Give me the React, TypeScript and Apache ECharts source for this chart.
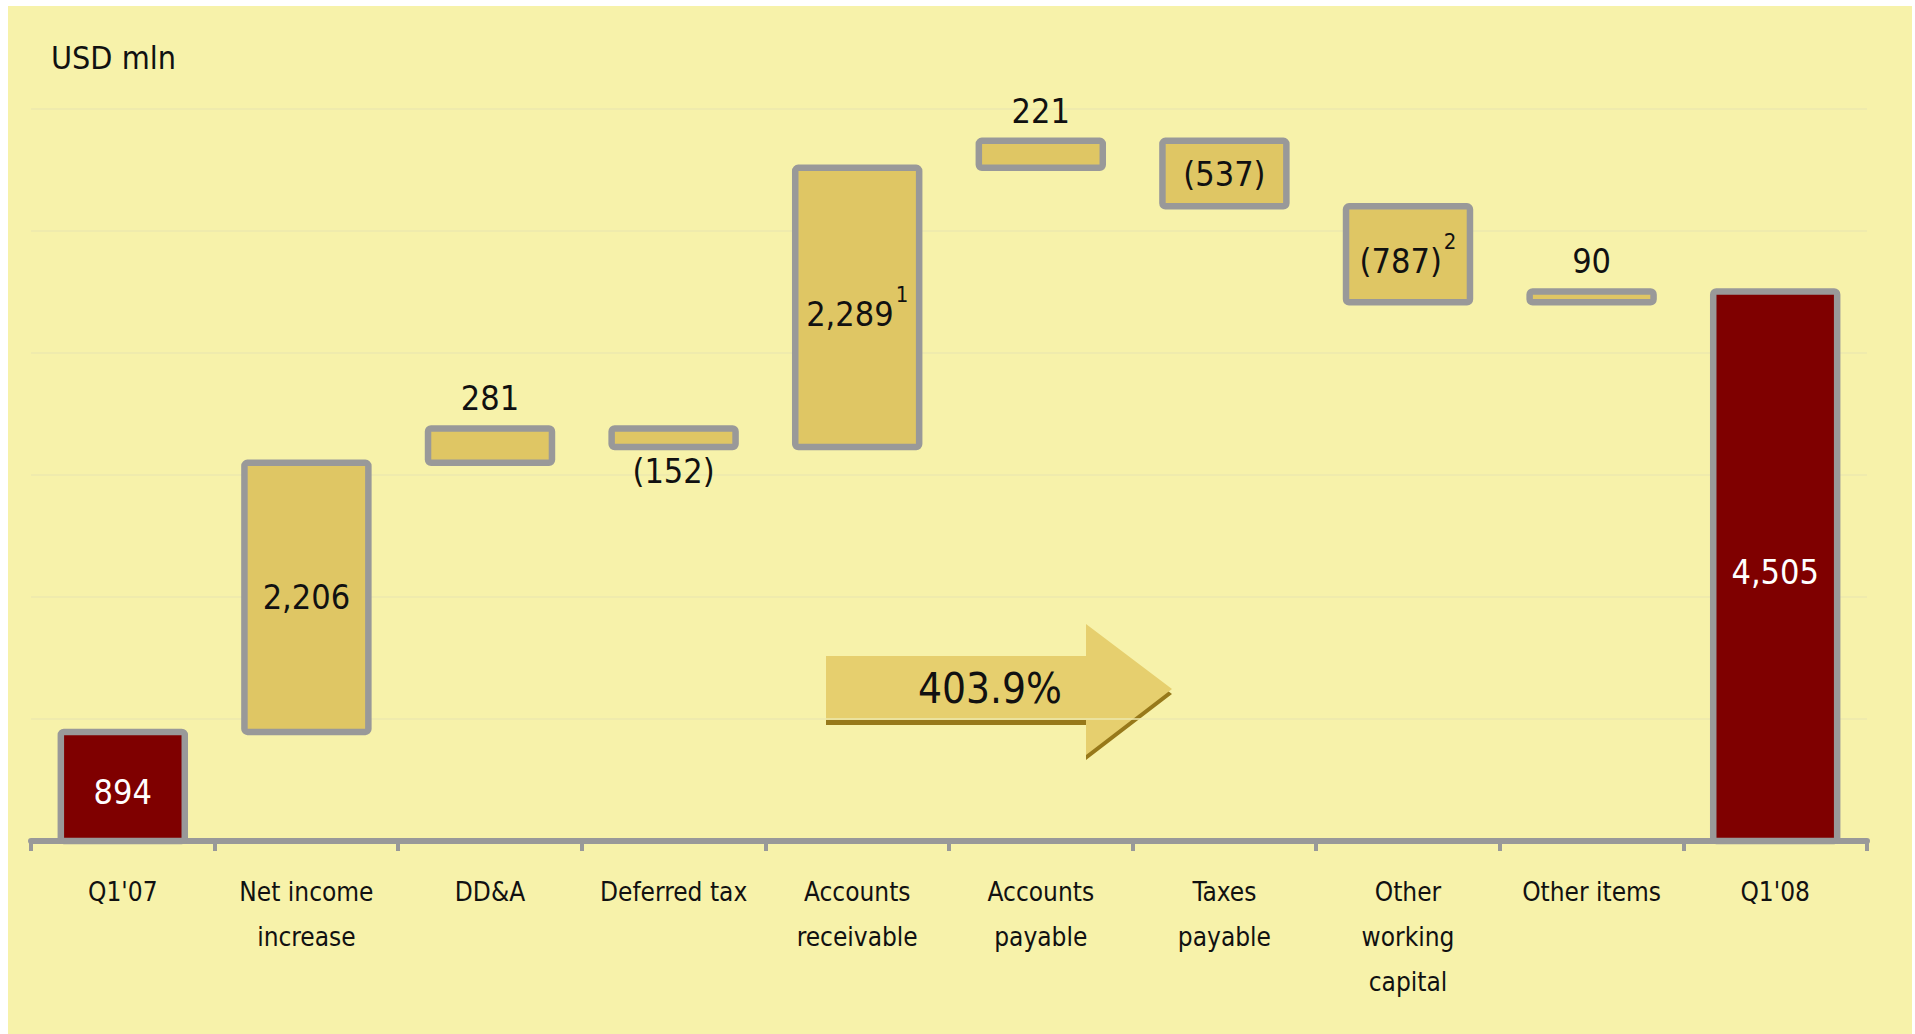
import React, { useEffect, useRef } from "react";
import * as echarts from "echarts";

// Cash-flow bridge, Q1'07 to Q1'08 (USD mln)
const categories = [
  "Q1'07",
  "Net income\nincrease",
  "DD&A",
  "Deferred tax",
  "Accounts\nreceivable",
  "Accounts\npayable",
  "Taxes\npayable",
  "Other\nworking\ncapital",
  "Other items",
  "Q1'08",
];
const changes = [894, 2206, 281, -152, 2289, 221, -537, -787, 90, 4505];
const isTotal = [true, false, false, false, false, false, false, false, false, true];
const footnotes = ["", "", "", "", "1", "", "", "2", "", ""];
const unitLabel = "USD mln";
const growthLabel = "403.9%";
const yMin = 0;
const yMax = 6000;
const yStep = 1000;

const FONT = "'DejaVu Sans Condensed', 'DejaVu Sans', sans-serif";
const BG = "#F7F2AA";
const GOLD = "#DFC664";
const MAROON = "#7F0000";
const GREY = "#999999";
const BAR_FRACTION = 0.675;

const fmt = (v: number) => {
  const s = Math.abs(v).toLocaleString("en-US");
  return v < 0 ? `(${s})` : s;
};

// [categoryIndex, low, high, change] for every step of the bridge
function buildBridge() {
  const rows: number[][] = [];
  let running = 0;
  changes.forEach((v, i) => {
    if (isTotal[i]) {
      rows.push([i, 0, v, v]);
      running = v;
    } else {
      const next = running + v;
      rows.push([i, Math.min(running, next), Math.max(running, next), v]);
      running = next;
    }
  });
  return rows;
}

function renderStep(params: any, api: any) {
  const i = params.dataIndex;
  const lo = api.value(1) as number;
  const hi = api.value(2) as number;
  const v = api.value(3) as number;
  const total = isTotal[i];
  const pLo = api.coord([i, lo]);
  const pHi = api.coord([i, hi]);
  const w = api.size([1, 0])[0] * BAR_FRACTION;

  const inside = total || Math.abs(v) >= 400;
  const position = inside ? "inside" : v >= 0 ? "top" : "bottom";
  const color = total ? "#FFFFFF" : "#111111";
  const fn = footnotes[i];
  const text = fmt(v);

  const textStyle: any = fn
    ? {
        text: `{v|${text}}{s|${fn}}`,
        fill: color,
        font: `34px ${FONT}`,
        rich: {
          v: { font: `34px ${FONT}`, fill: color, verticalAlign: "bottom" },
          s: {
            font: `22px ${FONT}`,
            fill: color,
            verticalAlign: "top",
            padding: [0, 0, 26, 2],
          },
        },
      }
    : { text, fill: color, font: `34px ${FONT}` };

  return {
    type: "rect",
    shape: {
      x: pLo[0] - w / 2,
      y: pHi[1],
      width: w,
      height: pLo[1] - pHi[1],
      r: 3,
    },
    style: {
      fill: total ? MAROON : GOLD,
      stroke: GREY,
      lineWidth: 6.5,
    },
    textContent: { style: textStyle },
    textConfig: {
      position,
      distance: position === "top" ? 10 : position === "bottom" ? 4 : 0,
      offset: total ? [0, 6] : [0, 0],
    },
  };
}

function buildOption() {
  const rows = buildBridge();

  return {
    animation: false,
    backgroundColor: "transparent",
    grid: { left: 31, right: 48, top: 109, bottom: 193, containLabel: false },
    xAxis: {
      type: "category",
      data: categories,
      axisLine: { show: true, lineStyle: { color: GREY, width: 6 } },
      axisTick: { show: true, length: 10, lineStyle: { color: GREY, width: 4 } },
      axisLabel: {
        interval: 0,
        color: "#111111",
        fontFamily: FONT,
        fontSize: 26,
        lineHeight: 45,
        margin: 28,
      },
      splitLine: { show: false },
    },
    yAxis: {
      type: "value",
      min: yMin,
      max: yMax,
      interval: yStep,
      axisLabel: { show: false },
      axisLine: { show: false },
      axisTick: { show: false },
      splitLine: { show: true, lineStyle: { color: "#EDE8AE", width: 1.5 } },
    },
    series: [
      {
        name: "bridge",
        type: "custom",
        renderItem: renderStep,
        encode: { x: 0, y: [1, 2] },
        data: rows,
        z: 3,
      },
    ],
    graphic: [
      {
        type: "text",
        left: 51,
        top: 42,
        style: { text: unitLabel, font: `32px ${FONT}`, fill: "#111111" },
      },
      {
        type: "group",
        children: [
          {
            type: "polygon",
            shape: {
              points: [
                [826, 661],
                [1086, 661],
                [1086, 629],
                [1172, 694],
                [1086, 760],
                [1086, 725],
                [826, 725],
              ],
            },
            style: { fill: "#97791A" },
          },
          {
            type: "polygon",
            shape: {
              points: [
                [826, 656],
                [1086, 656],
                [1086, 624],
                [1172, 689],
                [1086, 755],
                [1086, 720],
                [826, 720],
              ],
            },
            style: { fill: "#E6CF6E" },
          },
          {
            type: "text",
            x: 990,
            y: 688,
            style: {
              text: growthLabel,
              font: `42px ${FONT}`,
              fill: "#111111",
              align: "center",
              verticalAlign: "middle",
            },
          },
        ],
      },
    ],
  };
}

export default function App() {
  const ref = useRef<HTMLDivElement>(null);

  useEffect(() => {
    if (!ref.current) return;
    const chart = echarts.init(ref.current, null, { renderer: "svg" });
    chart.setOption(buildOption() as any);
    return () => chart.dispose();
  }, []);

  return (
    <div
      style={{
        position: "fixed",
        left: 0,
        top: 0,
        width: 1915,
        height: 1034,
        background: "#FFFFFF",
        overflow: "hidden",
      }}
    >
      <div
        style={{
          position: "absolute",
          left: 8,
          top: 6,
          width: 1904,
          height: 1028,
          background: BG,
        }}
      />
      <div
        ref={ref}
        style={{ position: "absolute", left: 0, top: 0, width: 1915, height: 1034 }}
      />
    </div>
  );
}
